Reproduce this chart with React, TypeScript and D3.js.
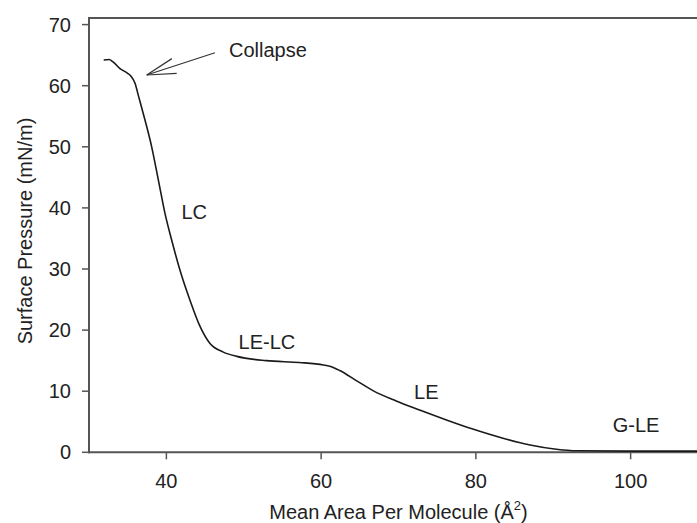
import React from "react";
import * as d3 from "d3";

// Isotherm curve: mean area per molecule (Å²) vs surface pressure (mN/m)
const areaValues = [31.9, 32.6, 33.1, 34.0, 34.9, 35.4, 35.95, 36.4, 37.0, 38.1, 38.96, 39.82, 40.69, 41.76, 43.05, 44.35, 45.64, 47.36, 49.1, 52.9, 57.2, 60.3, 61.1, 62.4, 64.6, 66.7, 69.7, 72.8, 76.2, 79.6, 83.5, 87.0, 90.4, 93.0, 100.0, 110.0];
const pressureValues = [64.2, 64.3, 63.9, 62.8, 62.1, 61.6, 60.4, 58.3, 55.5, 50.0, 44.6, 39.1, 34.7, 29.8, 24.9, 20.6, 17.8, 16.4, 15.7, 15.0, 14.7, 14.3, 14.1, 13.4, 11.7, 10.1, 8.4, 6.9, 5.3, 3.8, 2.3, 1.2, 0.5, 0.25, 0.2, 0.2];

const xTicks = [40, 60, 80, 100];
const yTicks = [0, 10, 20, 30, 40, 50, 60, 70];

const phaseLabels = ["LC", "LE-LC", "LE", "G-LE"];
const phaseAreas = [43.6, 53.0, 73.6, 100.7];
const phasePressures = [39.3, 18.05, 9.87, 4.47];

const collapseLabel = "Collapse";
const collapseArrowTip = [37.46, 61.75];
const collapseArrowTail = [46.28, 65.4];
const collapseLabelPos = [48.1, 65.85];

export default function App() {
  const W = 697;
  const H = 523;
  const left = 89;
  const right = 708;
  const top = 18;
  const bottom = 452.3;

  const x = d3.scaleLinear().domain([30, 110]).range([left, right]);
  const y = d3.scaleLinear().domain([0, 71.08]).range([bottom, top]);

  const pts = areaValues.map((a, i) => [a, pressureValues[i]] as [number, number]);
  const line = d3
    .line<[number, number]>()
    .x((d) => x(d[0]))
    .y((d) => y(d[1]))
    .curve(d3.curveMonotoneX);

  const font = "'Liberation Sans', Arial, Helvetica, sans-serif";
  const textColor = "#222";
  const axisColor = "#555";

  // arrow geometry
  const tipX = x(collapseArrowTip[0]);
  const tipY = y(collapseArrowTip[1]);
  const tailX = x(collapseArrowTail[0]);
  const tailY = y(collapseArrowTail[1]);
  const ang = Math.atan2(tailY - tipY, tailX - tipX);
  const headLen = 30;
  const spread = (15 * Math.PI) / 180;
  const h1 = [tipX + headLen * Math.cos(ang - spread), tipY + headLen * Math.sin(ang - spread)];
  const h2 = [tipX + headLen * Math.cos(ang + spread), tipY + headLen * Math.sin(ang + spread)];

  return (
    <svg
      width={W}
      height={H}
      style={{ position: "absolute", left: 0, top: 0, background: "#fff" }}
      fontFamily={font}
    >
      <rect x={0} y={0} width={W} height={H} fill="#fff" />
      {/* frame / axes */}
      <line x1={left} x2={right} y1={top} y2={top} stroke={axisColor} strokeWidth={2} />
      <line x1={left} x2={left} y1={top - 1} y2={bottom + 1} stroke={axisColor} strokeWidth={2} />
      <line x1={left - 1} x2={right} y1={bottom} y2={bottom} stroke={axisColor} strokeWidth={2} />

      {yTicks.map((t) => (
        <g key={"y" + t}>
          <line x1={left - 7} x2={left} y1={y(t)} y2={y(t)} stroke={axisColor} strokeWidth={1.5} />
          <text x={71} y={y(t) + 7} textAnchor="end" fontSize={20} fill={textColor}>
            {t}
          </text>
        </g>
      ))}
      {xTicks.map((t) => (
        <g key={"x" + t}>
          <line x1={x(t)} x2={x(t)} y1={bottom} y2={bottom + 7} stroke={axisColor} strokeWidth={1.5} />
          <text x={x(t)} y={488} textAnchor="middle" fontSize={20} fill={textColor}>
            {t}
          </text>
        </g>
      ))}

      {/* axis titles */}
      <text x={398.5} y={519} textAnchor="middle" fontSize={20} fill={textColor}>
        Mean Area Per Molecule (Å
        <tspan fontSize={13} dy={-9}>2</tspan>
        <tspan dy={9}>)</tspan>
      </text>
      <text
        transform={`translate(31.5, 231) rotate(-90)`}
        textAnchor="middle"
        fontSize={20}
        fill={textColor}
      >
        Surface Pressure (mN/m)
      </text>

      {/* curve */}
      <path d={line(pts) || ""} fill="none" stroke="#1a1a1a" strokeWidth={1.6} />

      {/* phase labels */}
      {phaseLabels.map((lab, i) => (
        <text
          key={lab}
          x={x(phaseAreas[i])}
          y={y(phasePressures[i]) + 7}
          textAnchor="middle"
          fontSize={20}
          fill={textColor}
        >
          {lab}
        </text>
      ))}

      {/* collapse annotation */}
      <line x1={tipX} y1={tipY} x2={tailX} y2={tailY} stroke="#333" strokeWidth={1.2} />
      <line x1={tipX} y1={tipY} x2={h1[0]} y2={h1[1]} stroke="#333" strokeWidth={1.2} />
      <line x1={tipX} y1={tipY} x2={h2[0]} y2={h2[1]} stroke="#333" strokeWidth={1.2} />
      <text x={x(collapseLabelPos[0])} y={y(collapseLabelPos[1]) + 7} fontSize={20} fill={textColor}>
        {collapseLabel}
      </text>
    </svg>
  );
}
